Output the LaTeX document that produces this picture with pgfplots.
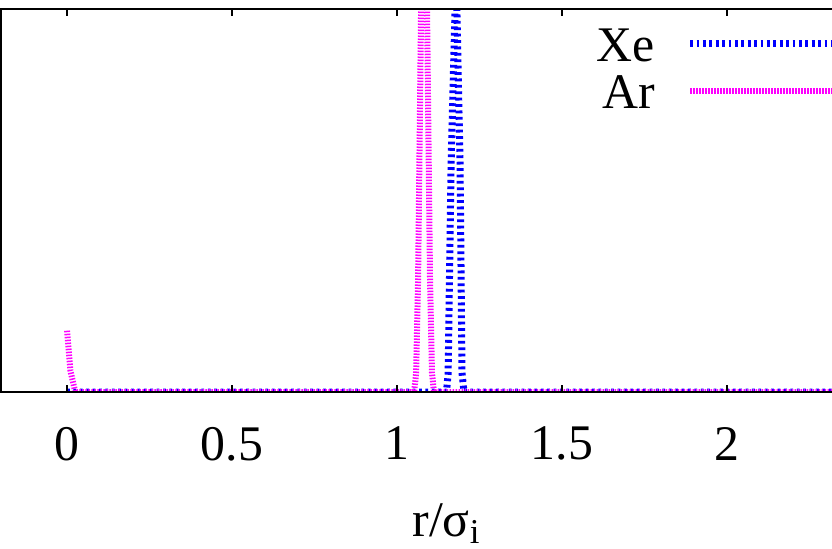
\documentclass[border=0pt]{standalone}
\usepackage{fontspec}
\setmainfont{Liberation Serif}
\usepackage{xcolor}
\usepackage{pgfplots}
\pgfplotsset{compat=1.18}
\definecolor{gpblue}{RGB}{0,0,255}
\definecolor{gpmag}{RGB}{255,0,255}

\begin{document}
\begin{tikzpicture}[font=\fontsize{25}{30}\selectfont]
% the reference is a cropped picture: keep only that window
\useasboundingbox (-0.5bp,-78.5bp) rectangle (415.5bp,196bp);
\clip (-0.5bp,-78.5bp) rectangle (415.5bp,196bp);
\begin{axis}[
    at={(0,0)}, anchor=south west,
    scale only axis,
    width=445.5bp, height=191.5bp,
    xmin=-0.2, xmax=2.5,
    ymin=0, ymax=1,
    xtick={0,0.5,1,1.5,2},
    ytick=\empty,
    tick pos=both,
    major tick length=3.5bp,
    tick style={black, line width=0.8bp},
    axis line style={black, line width=0.8bp},
    axis on top,
    /pgf/number format/assume math mode=true,
    xticklabel style={yshift=-14bp},
    xlabel={r/σ\textsubscript{i}},
    xlabel style={at={(axis description cs:0.5,0)}, anchor=base, yshift=-72bp},
    legend style={draw=none, fill=none, at={(axis description cs:1,1)},
        anchor=north east, xshift=-9bp, yshift=-9.5bp, inner sep=0pt,
        row sep=6bp, column sep=16bp, nodes={inner sep=0pt}},
    legend plot pos=right,
    legend cell align=right,
    legend image code/.code={\draw[#1] (0bp,1.5bp) -- (90bp,1.5bp);},
]
\addplot[gpblue, line width=3.5bp, dash pattern=on 1.4bp off 1.8bp] coordinates {
(0,0)(1.150,0)(1.155,0.05)(1.164,0.6)(1.179,1.1)(1.191,0.6)(1.197,0.05)
(1.203,0)(2.6,0)};
\addplot[gpmag, line width=3bp, dash pattern=on 0.75bp off 0.75bp] coordinates {
(0,0.16)(0.01,0.057)(0.025,0)(1.052,0)(1.058,0.05)(1.064,0.3)(1.073,1.0)
(1.082,1.7)(1.091,1.0)(1.100,0.3)(1.106,0.05)(1.112,0)(2.6,0)};
\legend{Xe, Ar}
\end{axis}
\end{tikzpicture}
\end{document}
